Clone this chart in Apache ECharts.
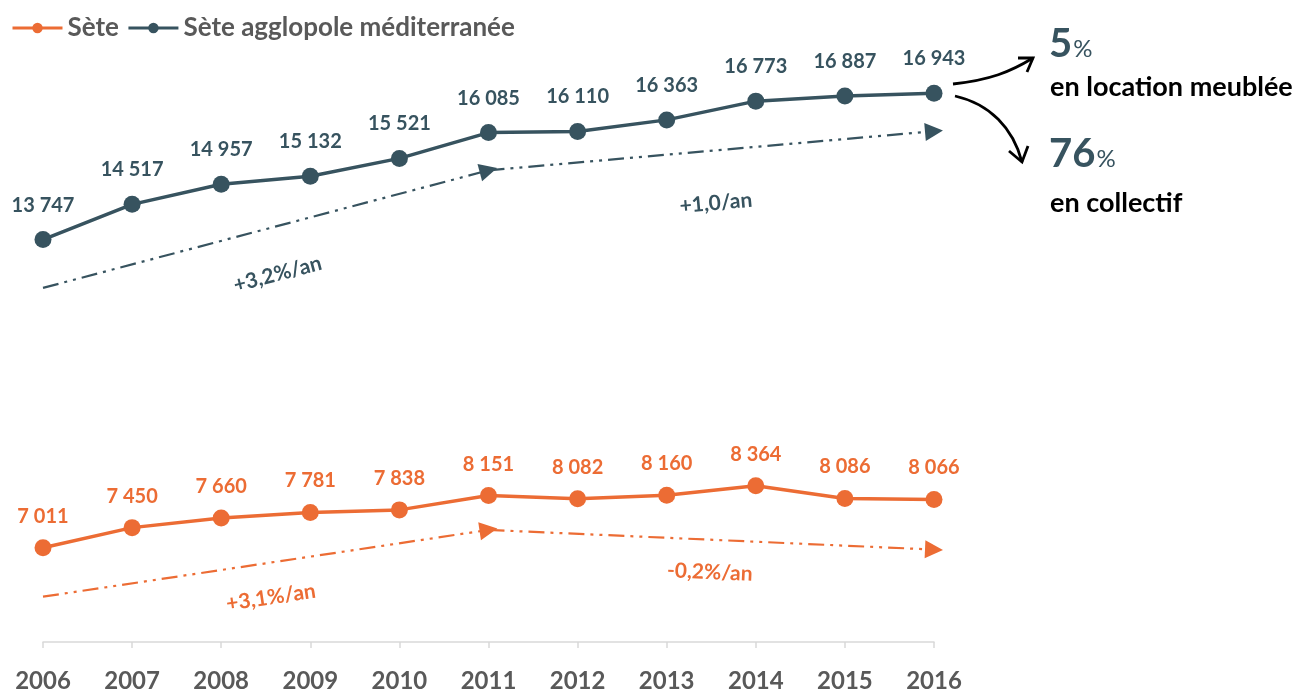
<!DOCTYPE html>
<html>
<head>
<meta charset="utf-8">
<script src="https://cdn.jsdelivr.net/npm/echarts@6/dist/echarts.min.js"></script>
<style>
  html, body { margin: 0; padding: 0; background: #fff; }
  #chart { width: 1299px; height: 693px; }
</style>
</head>
<body>
<div id="chart"></div>
<script>
// données
var years = ['2006', '2007', '2008', '2009', '2010', '2011', '2012', '2013', '2014', '2015', '2016'];
var sete = [7011, 7450, 7660, 7781, 7838, 8151, 8082, 8160, 8364, 8086, 8066];
var agglo = [13747, 14517, 14957, 15132, 15521, 16085, 16110, 16363, 16773, 16887, 16943];

// tendances (début, milieu, fin)
var trendYears = ['2006', '2011', '2016'];
var setTrend = [5940, 7400, 6970];
var aggloTrend = [12690, 15260, 16115];
var setTrendLabels = ['+3,1%/an', '-0,2%/an'];
var aggloTrendLabels = ['+3,2%/an', '+1,0/an'];

var pctLoc = '5';
var pctColl = '76';
var txtLoc = 'en location meublée';
var txtColl = 'en collectif';

var orange = '#ec6c34';
var dark = '#37535f';
var grey = '#595959';
var font = 'Lato';

function fmt(v) {
    return String(v).replace(/\B(?=(\d{3})+(?!\d))/g, ' ');
}

function trendLines(vals, labels, color, dist) {
    var out = [];
    for (var i = 0; i < 2; i++) {
        out.push([
            {coord: [trendYears[i], vals[i]]},
            {coord: [trendYears[i + 1], vals[i + 1]],
             label: {formatter: labels[i], distance: dist[i]}}
        ]);
    }
    return {
        silent: true,
        symbol: ['none', 'triangle'],
        symbolSize: 18,
        lineStyle: {color: color, width: 2.2, type: [16, 6, 3, 6, 3, 6]},
        label: {
            show: true,
            position: 'insideMiddleBottom',
            color: color,
            fontFamily: font,
            fontWeight: 'bold',
            fontSize: 21
        },
        emphasis: {disabled: true},
        data: out
    };
}

var chart = echarts.init(document.getElementById('chart'));
chart.setOption({
    animation: false,
    textStyle: {fontFamily: font},
    legend: {
        left: 6,
        top: 10,
        itemWidth: 50,
        itemHeight: 13,
        itemGap: 8,
        lineStyle: {width: 3},
        data: ['Sète', 'Sète agglopole méditerranée'],
        textStyle: {color: grey, fontSize: 26, fontWeight: 'bold', fontFamily: font}
    },
    grid: {left: 43, right: 365, top: 45, bottom: 50},
    xAxis: {
        type: 'category',
        boundaryGap: false,
        data: years,
        axisLine: {lineStyle: {color: '#d9d9d9', width: 1.5}},
        axisTick: {length: 6, lineStyle: {color: '#d9d9d9', width: 1.5}},
        axisLabel: {color: grey, fontSize: 24, fontWeight: 'bold', fontFamily: font, margin: 27}
    },
    yAxis: {
        type: 'value',
        min: 4950,
        max: 18000,
        show: false,
        splitLine: {show: false}
    },
    series: [
        {
            name: 'Sète',
            type: 'line',
            data: sete,
            color: orange,
            symbol: 'circle',
            symbolSize: 17,
            lineStyle: {width: 3.5},
            label: {
                show: true, position: 'top', distance: 13,
                color: orange, fontSize: 20, fontWeight: 'bold', fontFamily: font,
                formatter: function (p) { return fmt(p.value); }
            },
            markLine: trendLines(setTrend, setTrendLabels, orange, [24, 22])
        },
        {
            name: 'Sète agglopole méditerranée',
            type: 'line',
            data: agglo,
            color: dark,
            symbol: 'circle',
            symbolSize: 17,
            lineStyle: {width: 3.5},
            label: {
                show: true, position: 'top', distance: 16,
                color: dark, fontSize: 20, fontWeight: 'bold', fontFamily: font,
                formatter: function (p) { return fmt(p.value); }
            },
            markLine: trendLines(aggloTrend, aggloTrendLabels, dark, [36, 42])
        }
    ],
    graphic: [
        // flèches courbes vers les annotations
        {type: 'bezierCurve', silent: true,
         shape: {x1: 953, y1: 84, cpx1: 990, cpy1: 80, cpx2: 1010, cpy2: 72, x2: 1033, y2: 58},
         style: {stroke: '#000', lineWidth: 2.8, fill: null}},
        {type: 'polyline', silent: true,
         shape: {points: [[1018, 58], [1033, 58], [1027, 72]]},
         style: {stroke: '#000', lineWidth: 2.8, fill: null}},
        {type: 'bezierCurve', silent: true,
         shape: {x1: 955, y1: 96, cpx1: 990, cpy1: 104, cpx2: 1013, cpy2: 128, x2: 1022, y2: 162},
         style: {stroke: '#000', lineWidth: 2.8, fill: null}},
        {type: 'polyline', silent: true,
         shape: {points: [[1009, 151], [1022, 162], [1028, 146]]},
         style: {stroke: '#000', lineWidth: 2.8, fill: null}},
        {type: 'text', silent: true, left: 1049, top: 24,
         style: {text: '{a|' + pctLoc + '}{b|%}', rich: {
             a: {fontSize: 40, fontWeight: 'bold', fill: dark, fontFamily: font},
             b: {fontSize: 24, fontWeight: 'normal', fill: dark, fontFamily: font, padding: [10, 0, 0, 1]}
         }}},
        {type: 'text', silent: true, left: 1050, top: 74,
         style: {text: txtLoc, fontSize: 27, fontWeight: 'bold', fill: '#000', fontFamily: font}},
        {type: 'text', silent: true, left: 1049, top: 134,
         style: {text: '{a|' + pctColl + '}{b|%}', rich: {
             a: {fontSize: 40, fontWeight: 'bold', fill: dark, fontFamily: font},
             b: {fontSize: 24, fontWeight: 'normal', fill: dark, fontFamily: font, padding: [10, 0, 0, 1]}
         }}},
        {type: 'text', silent: true, left: 1050, top: 190,
         style: {text: txtColl, fontSize: 27, fontWeight: 'bold', fill: '#000', fontFamily: font}}
    ]
});
</script>
</body>
</html>
